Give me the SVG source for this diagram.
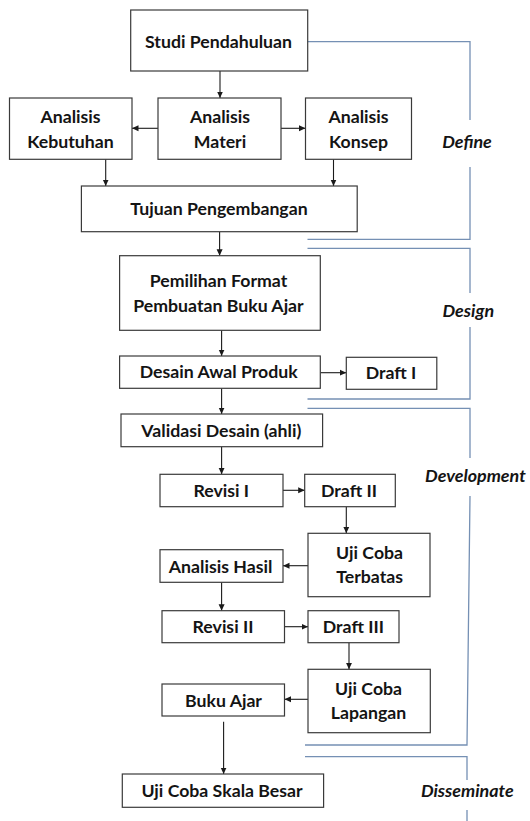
<svg xmlns="http://www.w3.org/2000/svg" width="530" height="821" viewBox="0 0 530 821">
  <style>
    .box { fill: #ffffff; stroke: #3a3a3a; stroke-width: 1.2; }
    .lbl { font-family: Lato, "Liberation Sans", sans-serif; font-weight: bold; font-size: 17.7px; fill: #141414; text-anchor: middle; }
    .phase { font-family: Lato, "Liberation Sans", sans-serif; font-weight: bold; font-style: italic; font-size: 17.9px; fill: #141414; text-anchor: middle; }
    .conn { fill: none; stroke: #1a1a1a; stroke-width: 1.1; marker-end: url(#arrow); }
    .bracket { fill: none; stroke: #7590b4; stroke-width: 1.3; }
  </style>
  <defs>
    <marker id="arrow" markerUnits="userSpaceOnUse" markerWidth="8" markerHeight="8" refX="6.5" refY="3.5" orient="auto">
      <path d="M0,0.5 L6.5,3.5 L0,6.5 z" fill="#1a1a1a"/>
    </marker>
  </defs>
  <rect width="530" height="821" fill="#ffffff"/>

  <!-- phase brackets -->
  <g id="phases">
    <path class="bracket" d="M307.5,41.7 H470 V120 M470,167 V239.3 H307.5"/>
    <text class="phase" x="467" y="148.3">Define</text>
    <path class="bracket" d="M307.5,248.3 H470 V293 M470,327 V399 H307.5"/>
    <text class="phase" x="468.3" y="317">Design</text>
    <path class="bracket" d="M307.5,408.3 H470 V458 M470,496 L467,745 H305"/>
    <text class="phase" x="425" y="481.7" style="text-anchor:start">Development</text>
    <path class="bracket" d="M305,756.7 H467 V780 M467,810 V821"/>
    <text class="phase" x="467.3" y="796.7">Disseminate</text>
  </g>

  <!-- connectors -->
  <g id="connectors">
    <path class="conn" d="M220,71 V98"/>
    <path class="conn" d="M158,128.3 H132"/>
    <path class="conn" d="M281,128.3 H305.5"/>
    <path class="conn" d="M105.7,159.3 V186"/>
    <path class="conn" d="M333.5,159.3 V186"/>
    <path class="conn" d="M219.6,231.7 V255.7"/>
    <path class="conn" d="M221.6,330.3 V356"/>
    <path class="conn" d="M320.3,372.7 H346.3"/>
    <path class="conn" d="M221.6,388.3 V414"/>
    <path class="conn" d="M221.6,446.7 V474.3"/>
    <path class="conn" d="M280,490.3 H304.7"/>
    <path class="conn" d="M346.3,506.7 V533.3"/>
    <path class="conn" d="M308,565.7 H283"/>
    <path class="conn" d="M221.6,582.3 V610.7"/>
    <path class="conn" d="M284.5,626.7 H308"/>
    <path class="conn" d="M349,642.7 V669.3"/>
    <path class="conn" d="M308,699.3 H284.5"/>
    <path class="conn" d="M223.6,721.7 V774"/>
  </g>

  <!-- nodes -->
  <g id="studi-pendahuluan">
    <rect class="box" x="130.7" y="10" width="177" height="61"/>
    <text class="lbl" x="218.5" y="47.7">Studi Pendahuluan</text>
  </g>
  <g id="analisis-kebutuhan">
    <rect class="box" x="9.5" y="98" width="122.5" height="61.3"/>
    <text class="lbl" x="70.5" y="123.3">Analisis</text>
    <text class="lbl" x="70.5" y="147.7">Kebutuhan</text>
  </g>
  <g id="analisis-materi">
    <rect class="box" x="158" y="98" width="123" height="61.3"/>
    <text class="lbl" x="220" y="123.3">Analisis</text>
    <text class="lbl" x="220" y="147.7">Materi</text>
  </g>
  <g id="analisis-konsep">
    <rect class="box" x="305.5" y="98" width="106" height="61.3"/>
    <text class="lbl" x="358.5" y="123.3">Analisis</text>
    <text class="lbl" x="358.5" y="147.7">Konsep</text>
  </g>
  <g id="tujuan-pengembangan">
    <rect class="box" x="81.4" y="186" width="275.8" height="45.7"/>
    <text class="lbl" x="219" y="215">Tujuan Pengembangan</text>
  </g>
  <g id="pemilihan-format">
    <rect class="box" x="119.6" y="255.7" width="200.7" height="74.6"/>
    <text class="lbl" x="218.5" y="287.3">Pemilihan Format</text>
    <text class="lbl" x="218.5" y="311.7">Pembuatan Buku Ajar</text>
  </g>
  <g id="desain-awal-produk">
    <rect class="box" x="119.6" y="356" width="200.7" height="32.3"/>
    <text class="lbl" x="218.7" y="378.3">Desain Awal Produk</text>
  </g>
  <g id="draft-1">
    <rect class="box" x="346.3" y="357.3" width="90.5" height="32"/>
    <text class="lbl" x="391" y="379">Draft I</text>
  </g>
  <g id="validasi-desain">
    <rect class="box" x="121" y="414" width="201.6" height="32.7"/>
    <text class="lbl" x="221.3" y="436.7">Validasi Desain (ahli)</text>
  </g>
  <g id="revisi-1">
    <rect class="box" x="160" y="474.3" width="123" height="32.4"/>
    <text class="lbl" x="221.3" y="496.7">Revisi I</text>
  </g>
  <g id="draft-2">
    <rect class="box" x="304.7" y="474.3" width="90.6" height="32.4"/>
    <text class="lbl" x="349" y="496.7">Draft II</text>
  </g>
  <g id="uji-coba-terbatas">
    <rect class="box" x="308" y="533.3" width="122" height="63.4"/>
    <text class="lbl" x="369.6" y="559">Uji Coba</text>
    <text class="lbl" x="369.6" y="583.3">Terbatas</text>
  </g>
  <g id="analisis-hasil">
    <rect class="box" x="160" y="549.7" width="123" height="32.6"/>
    <text class="lbl" x="220.6" y="572.7">Analisis Hasil</text>
  </g>
  <g id="revisi-2">
    <rect class="box" x="162" y="610.7" width="122.5" height="32"/>
    <text class="lbl" x="223" y="633.3">Revisi II</text>
  </g>
  <g id="draft-3">
    <rect class="box" x="308" y="610.7" width="91" height="32"/>
    <text class="lbl" x="353.4" y="633.3">Draft III</text>
  </g>
  <g id="uji-coba-lapangan">
    <rect class="box" x="308" y="669.3" width="122.3" height="63.4"/>
    <text class="lbl" x="368.6" y="695">Uji Coba</text>
    <text class="lbl" x="368.6" y="718.5">Lapangan</text>
  </g>
  <g id="buku-ajar">
    <rect class="box" x="162" y="684" width="122.5" height="32"/>
    <text class="lbl" x="223.5" y="706.7">Buku Ajar</text>
  </g>
  <g id="uji-coba-skala-besar">
    <rect class="box" x="122.3" y="774" width="201.3" height="33.3"/>
    <text class="lbl" x="222" y="796.7">Uji Coba Skala Besar</text>
  </g>
</svg>
